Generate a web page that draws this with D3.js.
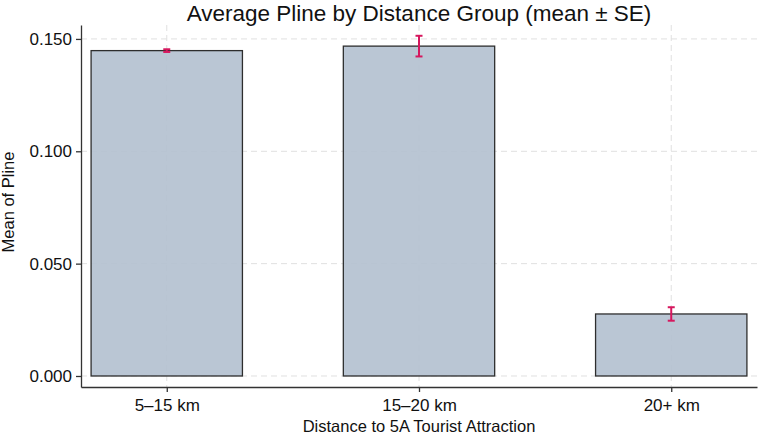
<!DOCTYPE html>
<html><head><meta charset="utf-8">
<script src="https://cdn.jsdelivr.net/npm/d3@7"></script>
<style>body{margin:0;background:#fff;}svg{display:block;font-family:"Liberation Sans",Arial,sans-serif;}</style>
</head><body><svg id="c" width="760" height="435"></svg>
<script>
const categories = ["5–15 km", "15–20 km", "20+ km"];
const means = [0.1448, 0.1468, 0.0276];
const ses = [0.0006, 0.0046, 0.0030];
const yTicks = [0.000, 0.050, 0.100, 0.150];
const title = "Average Pline by Distance Group (mean ± SE)";
const xTitle = "Distance to 5A Tourist Attraction";
const yTitle = "Mean of Pline";

const svg = d3.select("#c");
const L = 81, R = 757, T = 25, B = 387;
const x = d3.scaleLinear().domain([0.66, 3.34]).range([L, R]);
const y = d3.scaleLinear().domain([-0.0049, 0.1562]).range([B, T]);
const barW = x(1.3) - x(0.7);

const grid = svg.append("g");
grid.selectAll("line.h").data(yTicks).join("line")
  .attr("x1", L).attr("x2", R).attr("y1", d => y(d)).attr("y2", d => y(d))
  .attr("stroke", "#e0e0e0").attr("stroke-width", 1).attr("stroke-dasharray", "6,4");
grid.selectAll("line.v").data(categories).join("line")
  .attr("x1", (d,i) => x(i+1)).attr("x2", (d,i) => x(i+1)).attr("y1", T).attr("y2", B)
  .attr("stroke", "#e0e0e0").attr("stroke-width", 1).attr("stroke-dasharray", "6,4");

svg.append("g").selectAll("rect").data(means).join("rect")
  .attr("x", (d,i) => x(i+1) - barW/2).attr("width", barW)
  .attr("y", d => y(d)).attr("height", d => y(0) - y(d))
  .attr("fill", "#b2c0cf").attr("fill-opacity", 0.9)
  .attr("stroke", "#2e2e2e").attr("stroke-width", 1.3);

const eb = svg.append("g").attr("stroke", "#d6175e").attr("stroke-width", 2);
means.forEach((m, i) => {
  const cx = x(i+1);
  eb.append("line").attr("x1", cx).attr("x2", cx).attr("y1", y(m - ses[i])).attr("y2", y(m + ses[i]));
  [m - ses[i], m + ses[i]].forEach(v => eb.append("line").attr("x1", cx-3.5).attr("x2", cx+3.5).attr("y1", y(v)).attr("y2", y(v)));
});

const yAxis = svg.append("g").attr("transform", `translate(${L},0)`)
  .call(d3.axisLeft(y).tickValues(yTicks).tickFormat(d3.format(".3f")).tickSize(5).tickPadding(4).tickSizeOuter(0));
const xAxis = svg.append("g").attr("transform", `translate(0,${B})`)
  .call(d3.axisBottom(x).tickValues([1,2,3]).tickFormat((d) => categories[d-1]).tickSize(5).tickPadding(7).tickSizeOuter(0));
[yAxis, xAxis].forEach(a => {
  a.select(".domain").attr("stroke", "#333").attr("stroke-width", 1.3);
  a.selectAll(".tick line").attr("stroke", "#333").attr("stroke-width", 1.3);
  a.selectAll(".tick text").attr("fill", "#111").style("font-size", "17px").style("font-family", '"Liberation Sans",Arial,sans-serif');
});

svg.append("text").attr("x", 419).attr("y", 20.5).attr("text-anchor", "middle")
  .style("font-size", "22.5px").attr("fill", "#111").text(title);
svg.append("text").attr("x", 419).attr("y", 432).attr("text-anchor", "middle")
  .style("font-size", "16.5px").attr("fill", "#111").text(xTitle);
svg.append("text").attr("transform", "translate(14,202) rotate(-90)").attr("text-anchor", "middle")
  .style("font-size", "16.5px").attr("fill", "#111").text(yTitle);
</script></body></html>
